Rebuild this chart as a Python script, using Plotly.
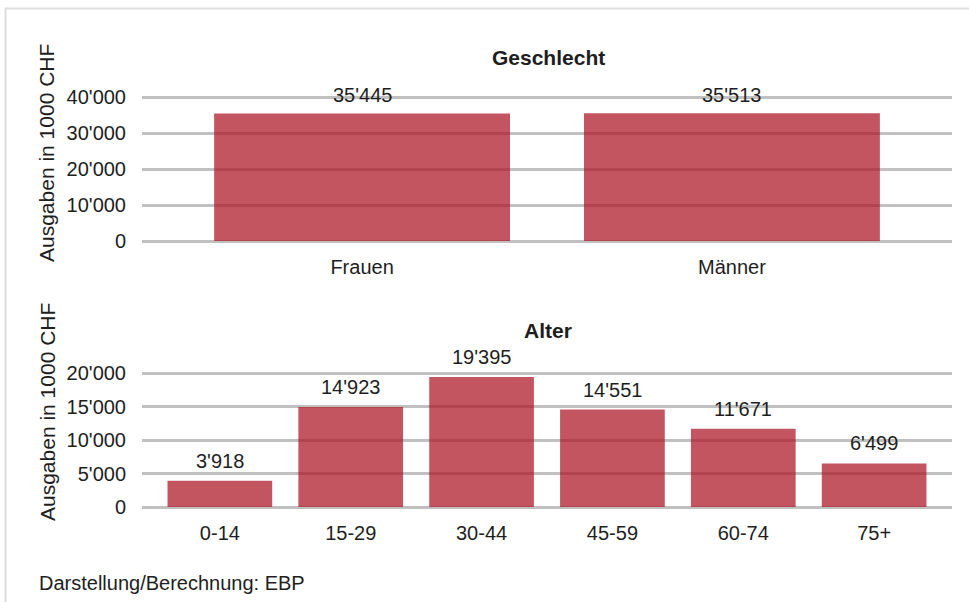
import plotly.graph_objects as go
from plotly.subplots import make_subplots

# Data
geschlecht_cats = ["Frauen", "Männer"]
geschlecht_vals = [35445, 35513]
alter_cats = ["0-14", "15-29", "30-44", "45-59", "60-74", "75+"]
alter_vals = [3918, 14923, 19395, 14551, 11671, 6499]
geschlecht_ticks = [0, 10000, 20000, 30000, 40000]
alter_ticks = [0, 5000, 10000, 15000, 20000]
panel_titles = ["Geschlecht", "Alter"]
y_title = "Ausgaben in 1000 CHF"
footer = "Darstellung/Berechnung: EBP"

W, H = 969, 602
FONT = "Arial, 'Liberation Sans', sans-serif"
TXT = "#1e1e1e"
BAR = "rgba(170,20,35,0.72)"
GRID = "#c0c0c0"
PAD = 3  # px of padding so edge gridlines are drawn


def fmt(v):
    return f"{v:,}".replace(",", "'")


def px_x(x):
    return x / W


def px_y(y):
    return 1 - y / H


def padded(top_px, bottom_px, vmax):
    per_px = vmax / (bottom_px - top_px)
    dom = [px_y(bottom_px + PAD), px_y(top_px - PAD)]
    rng = [-PAD * per_px, vmax + PAD * per_px]
    return dom, rng


dom1, rng1 = padded(97, 241, geschlecht_ticks[-1])
dom2, rng2 = padded(373, 507, alter_ticks[-1])

fig = make_subplots(rows=2, cols=1)

fig.add_trace(go.Bar(x=geschlecht_cats, y=geschlecht_vals, marker_color=BAR,
                     marker_line_width=0, hoverinfo="x+y"), row=1, col=1)
fig.add_trace(go.Bar(x=alter_cats, y=alter_vals, marker_color=BAR,
                     marker_line_width=0, hoverinfo="x+y"), row=2, col=1)

xdom = [px_x(142), px_x(952)]
axis_common = dict(showline=False, zeroline=False, automargin=False,
                   tickfont=dict(size=20, color=TXT, family=FONT))

fig.update_layout(
    template="none",
    xaxis=dict(domain=xdom, range=[-0.595, 1.595], showgrid=False, ticks="outside",
               ticklen=8 - PAD, tickcolor="rgba(0,0,0,0)", **axis_common),
    xaxis2=dict(domain=xdom, range=[-0.595, 5.595], showgrid=False, ticks="outside",
                ticklen=8 - PAD, tickcolor="rgba(0,0,0,0)", **axis_common),
    yaxis=dict(domain=dom1, range=rng1, tickvals=geschlecht_ticks,
               tickformat=",d", showgrid=True, gridcolor=GRID, gridwidth=2.5,
               ticks="outside", ticklen=11, tickcolor="rgba(0,0,0,0)", **axis_common),
    yaxis2=dict(domain=dom2, range=rng2, tickvals=alter_ticks,
                tickformat=",d", showgrid=True, gridcolor=GRID, gridwidth=2.5,
                ticks="outside", ticklen=11, tickcolor="rgba(0,0,0,0)", **axis_common),
    separators=".'",
    bargap=0.2,
    showlegend=False,
    width=W, height=H,
    margin=dict(l=0, r=0, t=0, b=0, pad=0, autoexpand=False),
    paper_bgcolor="white", plot_bgcolor="white",
    font=dict(family=FONT, color=TXT, size=20),
)

annotations = []
for c, v in zip(geschlecht_cats, geschlecht_vals):
    annotations.append(dict(x=c, y=v, xref="x", yref="y", text=fmt(v), showarrow=False,
                            yanchor="middle", yshift=18, font=dict(size=20, color=TXT, family=FONT)))
for c, v in zip(alter_cats, alter_vals):
    annotations.append(dict(x=c, y=v, xref="x2", yref="y2", text=fmt(v), showarrow=False,
                            yanchor="middle", yshift=20, font=dict(size=20, color=TXT, family=FONT)))

# panel titles
annotations.append(dict(x=px_x(548), y=px_y(58), xref="paper", yref="paper", text=f"<b>{panel_titles[0]}</b>",
                        showarrow=False, xanchor="center", yanchor="middle",
                        font=dict(size=21, color=TXT, family=FONT)))
annotations.append(dict(x=px_x(548), y=px_y(330), xref="paper", yref="paper", text=f"<b>{panel_titles[1]}</b>",
                        showarrow=False, xanchor="center", yanchor="middle",
                        font=dict(size=21, color=TXT, family=FONT)))
# y titles
for yc in (153, 412):
    annotations.append(dict(x=px_x(47), y=px_y(yc), xref="paper", yref="paper", text=y_title,
                            showarrow=False, textangle=-90, xanchor="center", yanchor="middle",
                            font=dict(size=21, color=TXT, family=FONT)))
# footer
annotations.append(dict(x=px_x(37), y=px_y(583), xref="paper", yref="paper", text=footer,
                        showarrow=False, xanchor="left", yanchor="middle",
                        font=dict(size=20, color=TXT, family=FONT)))
fig.update_layout(annotations=annotations)

# light frame (top and left edges)
fig.add_shape(type="line", xref="paper", yref="paper", x0=px_x(5), x1=1, y0=px_y(8.5), y1=px_y(8.5),
              line=dict(color="#dedede", width=2))
fig.add_shape(type="line", xref="paper", yref="paper", x0=px_x(5.5), x1=px_x(5.5), y0=0, y1=px_y(8),
              line=dict(color="#dedede", width=2))

fig.write_html("out.html", config={"displayModeBar": False},
               post_script="document.body.style.margin='0';document.body.style.overflow='hidden';")
